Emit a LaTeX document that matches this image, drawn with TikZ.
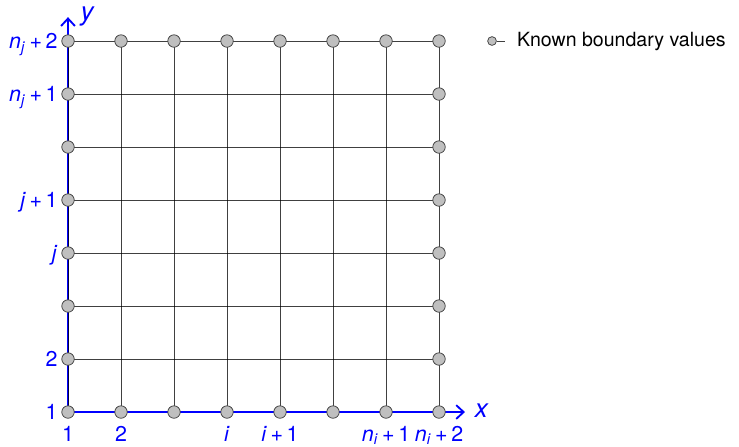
\documentclass[tikz,border=0pt]{standalone}
\usepackage{fontspec}
\setmainfont{TeX Gyre Heros}
\usetikzlibrary{arrows.meta}

\newcommand{\ix}[2]{\textit{#1}\textsubscript{\textit{#2}}}
\newcommand{\pl}{\,+\,}

\begin{document}
\begin{tikzpicture}[every node/.style={font=\fontsize{11.5}{13}\selectfont},
	>={Straight Barb[length=1.4mm, width=2.6mm]},
	known/.style={circle, draw=black!75, fill=black!25, inner sep=0pt, minimum size=2.35mm},
	gridline/.style={black, draw opacity=0.75, line width=0.5pt},
	axis/.style={->, blue, line width=1pt},
	lbl/.style={text=blue}]
	\useasboundingbox (-1.283,-0.642) rectangle (12.66,7.774);
	% mesh points
	\foreach \i in {0,...,7} \foreach \j in {0,...,7} \coordinate (g-\i-\j) at (\i,\j);
	\draw[axis] (g-0-0) -- ++(0,7.45) coordinate (ytip);
	\node[text=blue, font=\fontsize{14}{16}\selectfont\itshape] (ylab) at (0.36,7.47) {y};
	\foreach \k in {0,...,7} {
		\draw[gridline] (g-\k-0) -- (g-\k-7);
		\draw[gridline] (g-0-\k) -- (g-7-\k);
	}
	\draw[axis] (g-0-0) -- ++(7.49,0) coordinate (xtip);
	\node[text=blue, font=\fontsize{14}{16}\selectfont\itshape, anchor=west] (xlab) at (7.55,0.02) {x};
	% boundary values
	\foreach \k in {0,...,7} {
		\node[known] (b-0-\k) at (g-0-\k) {};
		\node[known] (b-7-\k) at (g-7-\k) {};
	}
	\foreach \k in {1,...,6} {
		\node[known] (b-\k-0) at (g-\k-0) {};
		\node[known] (b-\k-7) at (g-\k-7) {};
	}
	% indices
	\foreach \k/\t in {0/1, 1/2, 3/\textit{i}, 4/\textit{i}\pl1, 6/\ix{n}{i}\pl1, 7/\ix{n}{i}\pl2}
		\node[lbl, anchor=base, inner sep=0pt] (xi-\k) at ([yshift=-0.55cm]g-\k-0) {\t};
	\foreach \k/\t in {0/1, 1/2, 3/\textit{j}, 4/\textit{j}\pl1, 6/\ix{n}{j}\pl1, 7/\ix{n}{j}\pl2}
		\node[lbl, anchor=base east, inner sep=0pt] (yi-\k) at ([xshift=-0.19cm, yshift=-0.15cm]g-0-\k) {\t};
	% legend
	\node[known, minimum size=1.65mm] (leg) at (8.0,7) {};
	\coordinate (legend) at (8.245,7);
	\draw[black!75] (leg) -- (legend);
	\node[anchor=west, inner sep=0pt, font=\fontsize{10.5}{12}\selectfont] (legtext) at ([xshift=0.22cm]legend) {Known boundary values};
\end{tikzpicture}
\end{document}
